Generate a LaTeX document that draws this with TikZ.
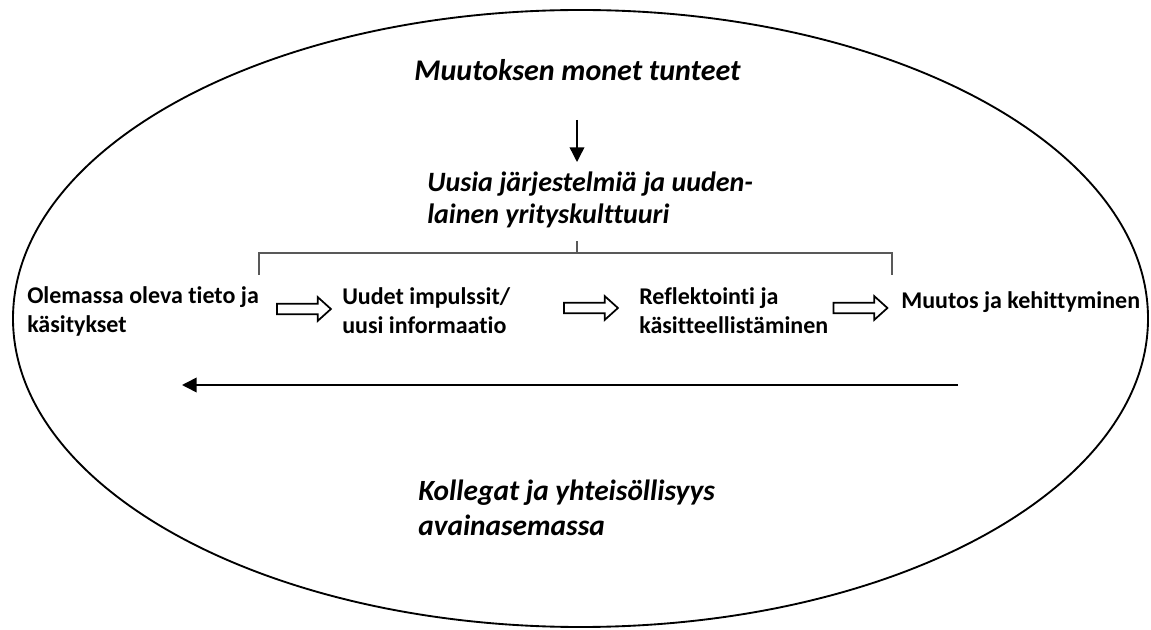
\documentclass[tikz,border=0pt]{standalone}
\usepackage{fontspec}
\setmainfont{Carlito}[Ligatures=NoCommon]
\usetikzlibrary{arrows.meta,shapes.arrows}

\begin{document}
\begin{tikzpicture}[x=0.75pt, y=-0.75pt,
  rowtext/.style={font=\bfseries\fontsize{18}{22}\selectfont, align=left, inner sep=0pt, anchor=base west},
  headtext/.style={font=\bfseries\itshape\fontsize{21}{24}\selectfont, align=left, inner sep=0pt, anchor=base west},
  hollowarrow/.style={single arrow, draw, line width=1.3pt, inner xsep=0pt, inner ysep=3.3pt,
    minimum height=40.5pt, single arrow head extend=5pt, single arrow tip angle=84},
  bracket/.style={black!65, line width=1pt},
  thinarrow/.style={line width=1.1pt, -{Triangle[length=11pt,width=11pt]}}]
\useasboundingbox (0,0) rectangle (1151,630);

\draw[line width=1.4pt] (580.5,318.5) ellipse [x radius=567.5, y radius=308.5];

\node[headtext, anchor=base, font=\bfseries\itshape\fontsize{22.5}{26}\selectfont] (tunteet) at (577.5,81) {Muutoksen monet tunteet};
\node[headtext] (jarjestelmat) at (427,224) {Uusia järjestelmiä ja uuden-\\lainen yrityskulttuuri};

\coordinate (nuoliA) at (577,120);
\coordinate (nuoliB) at (577,162);
\draw[thinarrow] (nuoliA) -- (nuoliB);

% sulkuviiva
\coordinate (sulkuL) at (259,275);
\coordinate (sulkuR) at (892,275);
\coordinate (sulkuM) at (577,253);
\draw[bracket] (sulkuL) -- (259,253) -- (892,253) -- (sulkuR);
\draw[bracket] (sulkuM) -- ++(0,-12);

\node[rowtext] (tieto) at (27,333) {Olemassa oleva tieto ja\\käsitykset};
\node[rowtext] (impulssit) at (342,334) {Uudet impulssit/\\uusi informaatio};
\node[rowtext] (reflektointi) at (639,334) {Reflektointi ja\\käsitteellistäminen};
\node[rowtext] (muutos) at (901,309) {Muutos ja kehittyminen};

\node[hollowarrow] (valiA) at (301,309) {};
\node[hollowarrow] (valiB) at (588,308) {};
\node[hollowarrow] (valiC) at (857.5,308) {};

\coordinate (paluuA) at (958,385);
\coordinate (paluuB) at (182,385);
\draw[line width=1.2pt, -{Triangle[length=11pt,width=11pt]}] (paluuA) -- (paluuB);

\node[headtext, font=\bfseries\itshape\fontsize{22}{26.25}\selectfont] (kollegat) at (418,535) {Kollegat ja yhteisöllisyys\\avainasemassa};
\end{tikzpicture}
\end{document}
